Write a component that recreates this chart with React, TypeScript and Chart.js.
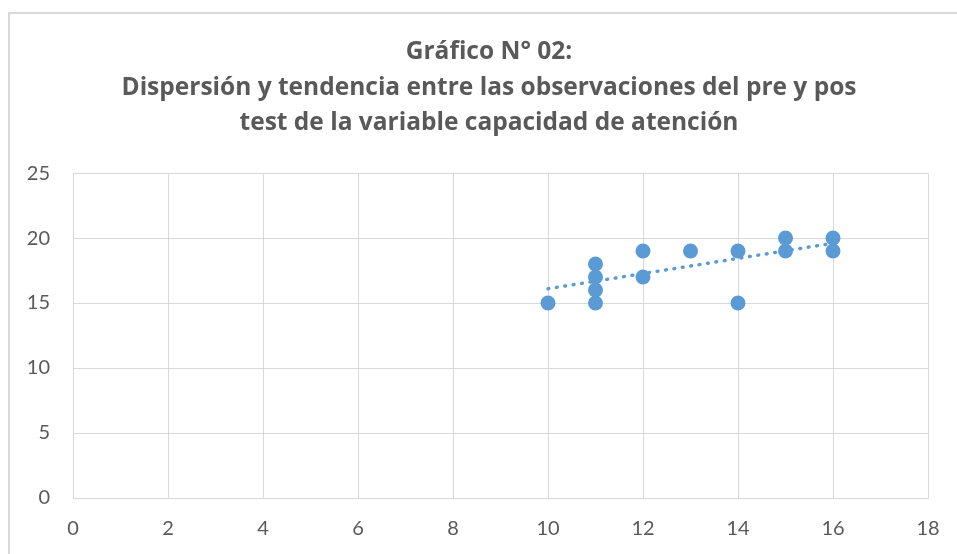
import React, { useEffect, useRef } from "react";
import { Chart, registerables } from "chart.js";

Chart.register(...registerables);

const titleLines = [
  "Gráfico N° 02:",
  "Dispersión y tendencia entre las observaciones del pre y pos",
  "test de la variable capacidad de atención",
];

const preTest = [10, 11, 11, 11, 11, 12, 12, 13, 14, 14, 15, 15, 16, 16];
const postTest = [15, 18, 17, 16, 15, 19, 17, 19, 19, 15, 20, 19, 20, 19];

const trendX = [10, 16];
const trendY = [16.1, 19.6];

const xTicks = { min: 0, max: 18, step: 2 };
const yTicks = { min: 0, max: 25, step: 5 };

const BLUE = "#5B9BD5";
const GRID = "#D9D9D9";
const TEXT = "#595959";

export default function App() {
  const ref = useRef<HTMLCanvasElement | null>(null);

  useEffect(() => {
    if (!ref.current) return;
    const chart = new Chart(ref.current, {
      type: "scatter",
      data: {
        datasets: [
          {
            label: "Observaciones",
            data: preTest.map((x, i) => ({ x, y: postTest[i] })),
            backgroundColor: BLUE,
            borderColor: BLUE,
            pointRadius: 7.5,
            pointHoverRadius: 7.5,
            borderWidth: 0,
            order: 0,
          },
          {
            label: "Tendencia",
            type: "line",
            data: trendX.map((x, i) => ({ x, y: trendY[i] })),
            borderColor: BLUE,
            borderWidth: 3.5,
            borderDash: [0.8, 7.7],
            borderCapStyle: "round",
            pointRadius: 0,
            fill: false,
            order: 1,
          } as any,
        ],
      },
      options: {
        animation: false,
        responsive: false,
        maintainAspectRatio: false,
        layout: { padding: 0 },
        plugins: {
          legend: { display: false },
          tooltip: { enabled: false },
          title: {
            display: true,
            text: titleLines,
            color: TEXT,
            font: { family: "Open Sans", weight: "bold", size: 24.5, lineHeight: 1.45 },
            padding: { top: 34.25, bottom: 32.25 },
          },
        },
        scales: {
          x: {
            type: "linear",
            min: xTicks.min,
            max: xTicks.max,
            ticks: {
              stepSize: xTicks.step,
              color: TEXT,
              font: { family: "Lato", size: 20 },
              padding: 19,
            },
            grid: { color: GRID, lineWidth: 1, drawTicks: false },
            border: { color: GRID, width: 1 },
            afterFit: (s: any) => {
              s.height = 56;
            },
          },
          y: {
            type: "linear",
            position: "left",
            min: yTicks.min,
            max: yTicks.max,
            ticks: {
              stepSize: yTicks.step,
              color: TEXT,
              font: { family: "Lato", size: 20 },
              padding: 23,
            },
            grid: { color: GRID, lineWidth: 1, drawTicks: false },
            border: { color: GRID, width: 1 },
            afterFit: (s: any) => {
              s.width = 73;
            },
          },
          yRight: {
            type: "linear",
            position: "right",
            display: true,
            min: yTicks.min,
            max: yTicks.max,
            ticks: { display: false },
            grid: { display: false, drawTicks: false },
            border: { display: false },
            afterFit: (s: any) => {
              s.width = 50;
            },
          },
        },
      },
    });
    return () => chart.destroy();
  }, []);

  return (
    <div style={{ position: "absolute", left: 0, top: 0, width: 957, height: 554, overflow: "hidden", background: "#fff" }}>
      <div
        style={{
          position: "absolute",
          left: 8,
          top: 12,
          width: 980,
          height: 580,
          border: "2px solid #D9D9D9",
        }}
      />
      <canvas ref={ref} width={978} height={554} style={{ position: "absolute", left: 0, top: 0 }} />
    </div>
  );
}
